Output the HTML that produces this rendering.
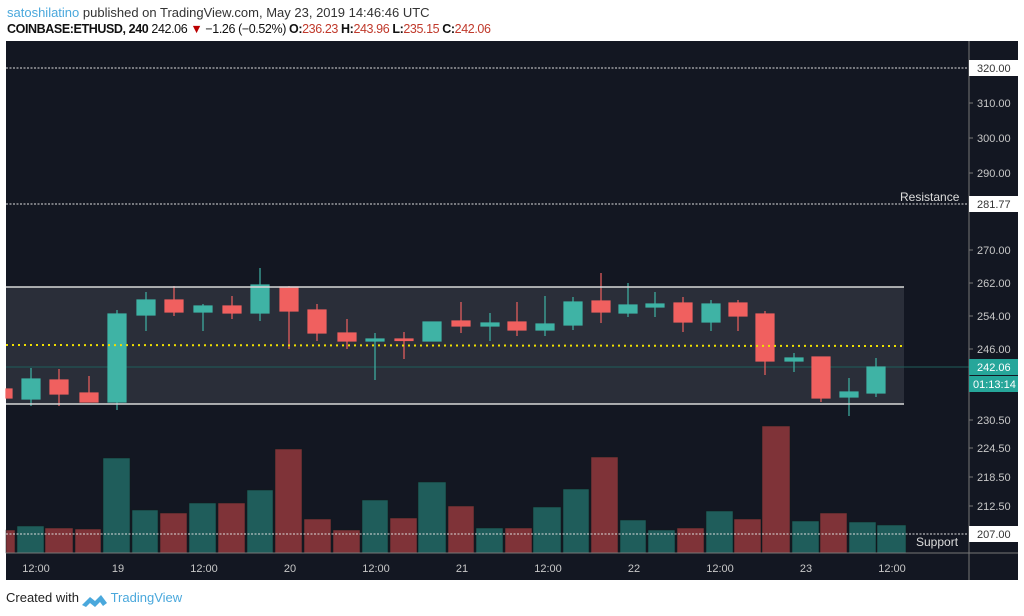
<!DOCTYPE html>
<html><head><meta charset="utf-8"><style>
body{margin:0;background:#fff;width:1024px;height:616px;overflow:hidden;font-family:"Liberation Sans",sans-serif}
.h1{position:absolute;left:7px;top:5px;font-size:13px;color:#333}
.h2{position:absolute;left:7px;top:22px;font-size:12.5px;letter-spacing:-0.4px;color:#111}
.r{color:#c0392b}
.ft{position:absolute;left:6px;top:590px;font-size:13px;color:#222}
</style></head><body>
<div class="h1"><span style="color:#4aa8dc">satoshilatino</span> published on TradingView.com, May 23, 2019 14:46:46 UTC</div>
<div class="h2"><b>COINBASE:ETHUSD, 240</b> 242.06 <span style="color:#b00">▼</span> −1.26 (−0.52%) <b>O:</b><span class="r">236.23</span> <b>H:</b><span class="r">243.96</span> <b>L:</b><span class="r">235.15</span> <b>C:</b><span class="r">242.06</span></div>
<svg style="position:absolute;left:0;top:0" width="1024" height="616" xmlns="http://www.w3.org/2000/svg">
<rect x="6" y="41" width="1012" height="539" fill="#131722"/>
<rect x="6" y="287" width="898" height="117" fill="#2a2e39"/>
<line x1="6" y1="367" x2="969" y2="367" stroke="#1f5d5b" stroke-width="1"/>
<g fill="#7f3338" stroke="#0f1a1a" stroke-width="0.5">
<rect x="6" y="530" width="9" height="23"/>
<rect x="45" y="528" width="28" height="25"/><rect x="75" y="529" width="26" height="24"/>
<rect x="160" y="513" width="27" height="40"/><rect x="218" y="503" width="27" height="50"/>
<rect x="275" y="449" width="27" height="104"/><rect x="304" y="519" width="27" height="34"/>
<rect x="333" y="530" width="27" height="23"/><rect x="390" y="518" width="27" height="35"/>
<rect x="448" y="506" width="26" height="47"/><rect x="505" y="528" width="27" height="25"/>
<rect x="591" y="457" width="27" height="96"/><rect x="677" y="528" width="27" height="25"/>
<rect x="734" y="519" width="27" height="34"/><rect x="762" y="426" width="28" height="127"/>
<rect x="820" y="513" width="27" height="40"/>
</g>
<g fill="#1f5d5b" stroke="#0f1a1a" stroke-width="0.5">
<rect x="17" y="526" width="27" height="27"/><rect x="103" y="458" width="27" height="95"/>
<rect x="132" y="510" width="26" height="43"/><rect x="189" y="503" width="27" height="50"/>
<rect x="247" y="490" width="26" height="63"/><rect x="362" y="500" width="26" height="53"/>
<rect x="418" y="482" width="28" height="71"/><rect x="476" y="528" width="27" height="25"/>
<rect x="533" y="507" width="28" height="46"/><rect x="563" y="489" width="26" height="64"/>
<rect x="620" y="520" width="26" height="33"/><rect x="648" y="530" width="27" height="23"/>
<rect x="706" y="511" width="27" height="42"/><rect x="792" y="521" width="27" height="32"/>
<rect x="849" y="522" width="27" height="31"/><rect x="877" y="525" width="29" height="28"/>
</g>
<g stroke-width="1.2">
<g stroke="#3fb3a5" fill="#3fb3a5">
<line x1="31" y1="368" x2="31" y2="406"/><rect x="22" y="379" width="18" height="20"/>
<line x1="117" y1="310" x2="117" y2="410"/><rect x="108" y="314" width="18" height="88"/>
<line x1="146" y1="292" x2="146" y2="331"/><rect x="137" y="300" width="18" height="15"/>
<line x1="203" y1="304" x2="203" y2="331"/><rect x="194" y="306" width="18" height="6"/>
<line x1="260" y1="268" x2="260" y2="321"/><rect x="251" y="285" width="18" height="28"/>
<line x1="375" y1="333" x2="375" y2="380"/><rect x="366" y="339" width="18" height="2"/>
<line x1="432" y1="322" x2="432" y2="341"/><rect x="423" y="322" width="18" height="19"/>
<line x1="490" y1="313" x2="490" y2="341"/><rect x="481" y="323" width="18" height="3"/>
<line x1="545" y1="296" x2="545" y2="336"/><rect x="536" y="324" width="18" height="6"/>
<line x1="573" y1="297" x2="573" y2="330"/><rect x="564" y="302" width="18" height="23"/>
<line x1="628" y1="283" x2="628" y2="317"/><rect x="619" y="305" width="18" height="8"/>
<line x1="655" y1="292" x2="655" y2="317"/><rect x="646" y="304" width="18" height="3"/>
<line x1="711" y1="300" x2="711" y2="331"/><rect x="702" y="304" width="18" height="18"/>
<line x1="794" y1="353" x2="794" y2="372"/><rect x="785" y="358" width="18" height="3"/>
<line x1="849" y1="378" x2="849" y2="416"/><rect x="840" y="392" width="18" height="5"/>
<line x1="876" y1="358" x2="876" y2="397"/><rect x="867" y="367" width="18" height="26"/>
</g>
<g stroke="#f0605f" fill="#f0605f">
<rect x="6" y="389" width="6" height="9"/>
<line x1="59" y1="369" x2="59" y2="406"/><rect x="50" y="380" width="18" height="14"/>
<line x1="89" y1="376" x2="89" y2="402"/><rect x="80" y="393" width="18" height="9"/>
<line x1="174" y1="286" x2="174" y2="316"/><rect x="165" y="300" width="18" height="12"/>
<line x1="232" y1="296" x2="232" y2="319"/><rect x="223" y="306" width="18" height="7"/>
<line x1="289" y1="286" x2="289" y2="349"/><rect x="280" y="287" width="18" height="24"/>
<line x1="317" y1="304" x2="317" y2="341"/><rect x="308" y="310" width="18" height="23"/>
<line x1="347" y1="319" x2="347" y2="349"/><rect x="338" y="333" width="18" height="8"/>
<line x1="404" y1="332" x2="404" y2="359"/><rect x="395" y="339" width="18" height="1.5"/>
<line x1="461" y1="302" x2="461" y2="333"/><rect x="452" y="321" width="18" height="5"/>
<line x1="517" y1="302" x2="517" y2="336"/><rect x="508" y="322" width="18" height="8"/>
<line x1="601" y1="273" x2="601" y2="323"/><rect x="592" y="301" width="18" height="11"/>
<line x1="683" y1="297" x2="683" y2="332"/><rect x="674" y="303" width="18" height="19"/>
<line x1="738" y1="300" x2="738" y2="331"/><rect x="729" y="303" width="18" height="13"/>
<line x1="765" y1="311" x2="765" y2="375"/><rect x="756" y="314" width="18" height="47"/>
<line x1="821" y1="357" x2="821" y2="402"/><rect x="812" y="357" width="18" height="41"/>
</g>
</g>
<line x1="6" y1="287" x2="904" y2="287" stroke="#d8d8d8" stroke-width="1.5"/>
<line x1="6" y1="404" x2="904" y2="404" stroke="#d8d8d8" stroke-width="1.5"/>
<line x1="6" y1="345" x2="904" y2="346" stroke="#f0e000" stroke-width="2" stroke-dasharray="2,4"/>
<g stroke="#ddd" stroke-width="1" stroke-dasharray="2,1.5">
<line x1="6" y1="68" x2="969" y2="68"/><line x1="6" y1="204" x2="969" y2="204"/><line x1="6" y1="534" x2="969" y2="534"/>
</g>
<line x1="969" y1="41" x2="969" y2="580" stroke="#777"/>
<line x1="6" y1="553" x2="1018" y2="553" stroke="#777"/>
<g font-size="11" fill="#c8c8c8" font-family="Liberation Sans,sans-serif">
<g stroke="#777"><line x1="969" y1="103" x2="973" y2="103"/><line x1="969" y1="138" x2="973" y2="138"/><line x1="969" y1="173" x2="973" y2="173"/><line x1="969" y1="250" x2="973" y2="250"/><line x1="969" y1="283" x2="973" y2="283"/><line x1="969" y1="316" x2="973" y2="316"/><line x1="969" y1="349" x2="973" y2="349"/><line x1="969" y1="420" x2="973" y2="420"/><line x1="969" y1="448" x2="973" y2="448"/><line x1="969" y1="477" x2="973" y2="477"/><line x1="969" y1="506" x2="973" y2="506"/></g>
<text x="977" y="107">310.00</text><text x="977" y="142">300.00</text><text x="977" y="177">290.00</text><text x="977" y="254">270.00</text><text x="977" y="287">262.00</text><text x="977" y="320">254.00</text><text x="977" y="353">246.00</text><text x="977" y="424">230.50</text><text x="977" y="452">224.50</text><text x="977" y="481">218.50</text><text x="977" y="510">212.50</text>
<rect x="969" y="60" width="49" height="16" fill="#fff"/><text x="977" y="72" fill="#333">320.00</text>
<rect x="969" y="196" width="49" height="16" fill="#fff"/><text x="977" y="208" fill="#333">281.77</text>
<rect x="969" y="526" width="49" height="16" fill="#fff"/><text x="977" y="538" fill="#333">207.00</text>
<rect x="969" y="359" width="49" height="16" fill="#26a69a"/><text x="977" y="371" fill="#fff">242.06</text>
<rect x="969" y="376" width="49" height="16" fill="#26a69a"/><text x="973" y="388" fill="#fff">01:13:14</text>
<text x="900" y="201" font-size="12" fill="#ddd">Resistance</text>
<text x="916" y="546" font-size="12" fill="#ddd">Support</text>
<g text-anchor="middle"><text x="36" y="572">12:00</text><text x="118" y="572">19</text><text x="204" y="572">12:00</text><text x="290" y="572">20</text><text x="376" y="572">12:00</text><text x="462" y="572">21</text><text x="548" y="572">12:00</text><text x="634" y="572">22</text><text x="720" y="572">12:00</text><text x="806" y="572">23</text><text x="892" y="572">12:00</text></g>
</g>
<path d="M82 605 L90 597 L95 601 L101 595 L107 603 L103 606 L100 602 L95 607 L90 603 L86 607Z" fill="#4aa8dc"/>
</svg>
<div class="ft">Created with <span style="margin-left:28px;color:#4aa8dc">TradingView</span></div>
</body></html>
